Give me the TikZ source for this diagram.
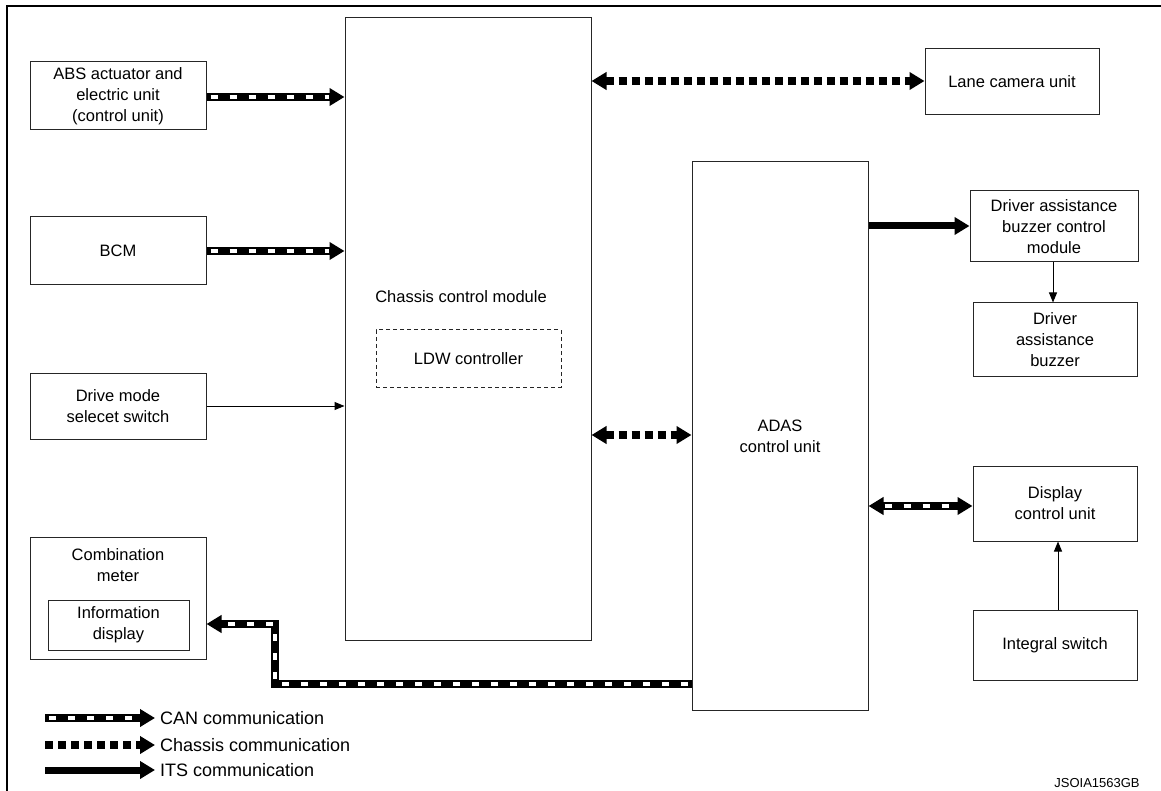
\documentclass[tikz,border=0pt]{standalone}
\usepackage{fontspec}
\setmainfont{Liberation Sans}
\usetikzlibrary{arrows.meta}
\begin{document}
\begin{tikzpicture}[x=1pt,y=-1pt,
  font=\fontsize{16.5}{21}\selectfont,
  box/.style={draw=black!85, line width=1pt, align=center, inner sep=0pt},
  lbl/.style={align=center, inner sep=0pt},
  leg/.style={anchor=west, inner sep=0pt, font=\fontsize{18}{21}\selectfont},
  thin/.style={line width=1pt, -{Triangle[length=10pt,width=8pt]}},
  can/.style={line width=8pt, line join=miter, -{Triangle[length=15pt,width=17pt]},
    postaction={draw=white, line width=3.5pt, -, dash pattern=on 7pt off 12pt, dash phase=-4pt, shorten >=16pt}},
  canb/.style={line width=8pt, {Triangle[length=15pt,width=17pt]}-{Triangle[length=15pt,width=17pt]},
    postaction={draw=white, line width=3.5pt, -, dash pattern=on 7pt off 12pt, shorten >=16pt, shorten <=16pt}},
  chas/.style={line width=8pt, dash pattern=on 8pt off 5pt, -{Triangle[length=15pt,width=17pt]}},
  chasb/.style={line width=8pt, dash pattern=on 8pt off 5pt, {Triangle[length=15pt,width=17pt]}-{Triangle[length=15pt,width=17pt]}},
  its/.style={line width=7pt, -{Triangle[length=15pt,width=17pt]}}
]
\useasboundingbox (0,0) rectangle (1161,791);
% frame
\draw[line width=2.5pt, line cap=rect] (7,791) -- (7,6) -- (1161,6);

% left boxes
\node[box, minimum width=176pt, minimum height=68pt] (abs) at (118,96) {ABS actuator and\\electric unit\\(control unit)};
\node[box, minimum width=176pt, minimum height=68pt] (bcm) at (118,251) {BCM};
\node[box, minimum width=176pt, minimum height=66pt] (drv) at (118,406) {Drive mode\\selecet switch};
\node[box, minimum width=176pt, minimum height=122pt] (comb) at (118,598) {};
\node[lbl] (combt) at (118,565) {Combination\\meter};
\node[box, minimum width=141pt, minimum height=50pt] (info) at (118.5,625) {Information\\display};

% chassis control module
\node[box, minimum width=246pt, minimum height=622pt] (ccm) at (468,329) {};
\node[lbl] (ccmt) at (461,297) {Chassis control module};
\node[box, dashed, dash pattern=on 4pt off 3pt, minimum width=185pt, minimum height=57pt] (ldw) at (468.5,358.5) {LDW controller};

% ADAS
\node[box, minimum width=176pt, minimum height=548pt] (adas) at (780,436) {ADAS\\control unit};

% right boxes
\node[box, minimum width=174pt, minimum height=66pt] (lane) at (1012,82) {Lane camera unit};
\node[box, minimum width=168pt, minimum height=71pt] (bzc) at (1054,226.5) {Driver assistance\\buzzer control\\module};
\node[box, minimum width=164pt, minimum height=73pt] (bz) at (1055,339.5) {Driver\\assistance\\buzzer};
\node[box, minimum width=164pt, minimum height=75pt] (disp) at (1055,503.5) {Display\\control unit};
\node[box, minimum width=164pt, minimum height=70pt] (isw) at (1055,645) {Integral switch};

% connectors
\draw[can] (abs.east|-0,97) -- (ccm.west|-0,97);
\draw[can] (bcm.east|-0,251) -- (ccm.west|-0,251);
\draw[thin] (drv.east|-0,406) -- (ccm.west|-0,406);
\draw[chasb] (ccm.east|-0,81) -- (lane.west|-0,81);
\draw[chasb] (ccm.east|-0,435) -- (adas.west|-0,435);
\draw[its] (adas.east|-0,226) -- (bzc.west|-0,226);
\draw[thin] (bzc.south-|1053,0) -- (bz.north-|1053,0);
\draw[canb] (adas.east|-0,506) -- (disp.west|-0,506);
\draw[thin] (isw.north-|1058,0) -- (disp.south-|1058,0);
\coordinate (b1) at (275,684);
\coordinate (b2) at (275,624);
\draw[can] (adas.west|-b1) -- (b1) -- (b2) -- (comb.east|-b2);

% legend
\coordinate (l1a) at (45,718); \coordinate (l1b) at (155,718);
\coordinate (l2a) at (45,745); \coordinate (l2b) at (155,745);
\coordinate (l3a) at (45,770); \coordinate (l3b) at (155,770);
\draw[can] (l1a) -- (l1b);
\draw[chas] (l2a) -- (l2b);
\draw[its] (l3a) -- (l3b);
\node[leg] (t1) at (160,718) {CAN communication};
\node[leg] (t2) at (160,745) {Chassis communication};
\node[leg] (t3) at (160,770) {ITS communication};

\node[lbl, font=\fontsize{13}{15}\selectfont] (code) at (1097,783) {JSOIA1563GB};
\end{tikzpicture}
\end{document}
